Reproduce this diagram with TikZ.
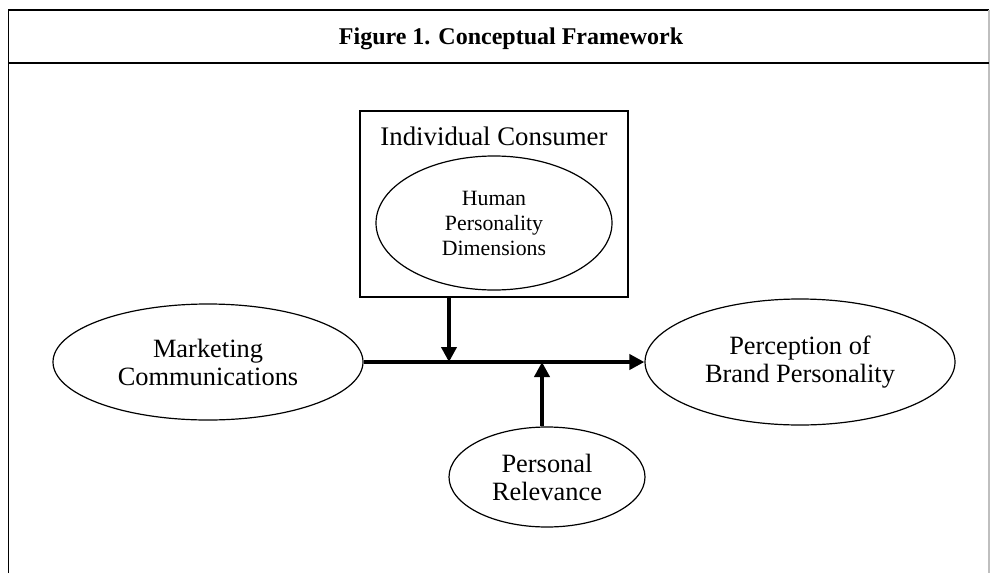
\documentclass[tikz,border=0pt]{standalone}
\usepackage{fontspec}
\setmainfont{Liberation Serif}
\usetikzlibrary{shapes.geometric,arrows.meta}

\begin{document}
\begin{tikzpicture}[x=0.5pt,y=-0.5pt,
    oval/.style={draw,ellipse,line width=0.6pt,inner sep=0pt,align=center,
      font=\fontsize{13.2}{14}\selectfont},
    flow/.style={line width=2pt,-{Triangle[length=7.5pt,width=7.5pt]}}]
      \useasboundingbox (0,0) rectangle (990,573);
      % frame and title
      \draw[line width=0.8pt] (8.5,573)--(8.5,10)--(989,10);
      \draw[gray!50,line width=0.6pt] (989,10)--(989,573);
      \draw[line width=0.8pt] (8.5,63)--(989,63);
      \node[anchor=base,font=\bfseries\fontsize{12}{14}\selectfont] (title) at (511,44) {Figure 1. Conceptual Framework};
      % consumer box
      \node[draw,line width=0.6pt,minimum width=134pt,minimum height=93pt] (consumer) at (494,204) {};
      \node[anchor=base,font=\fontsize{13.4}{14}\selectfont] (consumerlabel) at (494,145) {Individual Consumer};
      \node[oval,minimum width=118pt,minimum height=67pt,font=\fontsize{10.9}{12.5}\selectfont] (human) at (494,223) {Human\\Personality\\Dimensions};
      % main ovals
      \node[oval,minimum width=155pt,minimum height=58pt] (marketing) at (208,362) {Marketing\\Communications};
      \node[oval,minimum width=155pt,minimum height=63pt] (perception) at (800,362) {Perception of\\Brand Personality};
      \node[oval,minimum width=98pt,minimum height=50pt] (relevance) at (547,477) {Personal\\Relevance};
      % arrows
      \coordinate (joinA) at (449,362);
      \coordinate (joinB) at (542,362);
      \draw[flow] (marketing.east) -- (perception.west);
      \draw[flow] (consumer.south -| joinA) -- (joinA);
      \draw[flow] (relevance.north -| joinB) -- (joinB);
    \end{tikzpicture}
\end{document}
